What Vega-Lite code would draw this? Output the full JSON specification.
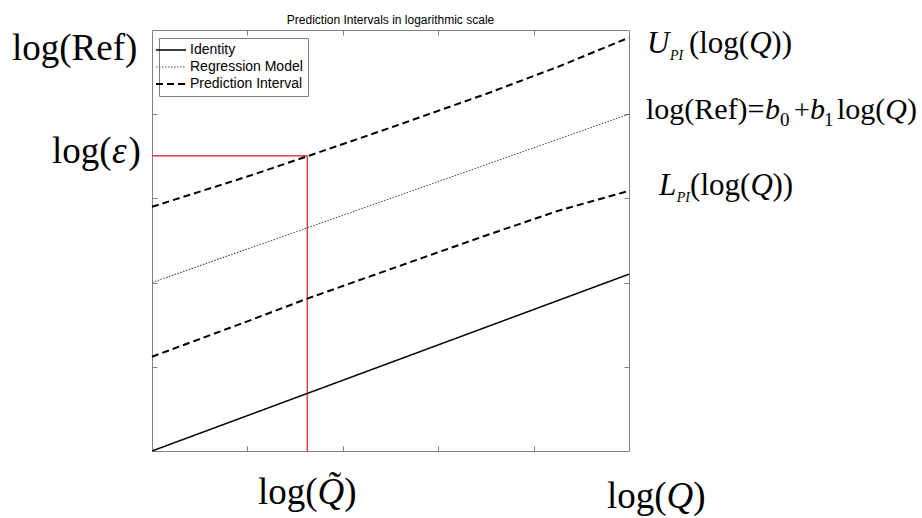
{
  "$schema": "https://vega.github.io/schema/vega-lite/v6.json",
  "width": 477,
  "height": 421,
  "autosize": {"type": "none"},
  "padding": {"left": 152, "top": 30, "right": 293, "bottom": 67},
  "background": "white",
  "title": {"text": "Prediction Intervals in logarithmic scale", "font": "Liberation Sans", "fontSize": 12, "fontWeight": "normal", "color": "#000000", "anchor": "middle", "baseline": "alphabetic", "offset": -8},
  "config": {
    "view": {"stroke": "#808080", "strokeWidth": 1},
    "axis": {"labels": false, "domain": false, "grid": false, "ticks": true, "tickSize": -5, "tickColor": "#808080", "tickWidth": 1, "title": null},
    "legend": {"orient": "none", "legendX": 7, "legendY": 8, "strokeColor": "#808080", "fillColor": "white", "padding": 5, "title": null, "labelFont": "Liberation Sans", "labelFontSize": 14, "labelColor": "#000000", "symbolType": "M-2.5,0H2.5", "symbolSize": 144, "labelOffset": 12, "rowPadding": 3}
  },
  "datasets": {
    "lines": [
      {"s": "Identity", "id": "identity", "x": 0, "y": 0},
      {"s": "Identity", "id": "identity", "x": 5, "y": 2.10},
      {"s": "Regression Model", "id": "reg", "x": 0, "y": 2.0},
      {"s": "Regression Model", "id": "reg", "x": 5, "y": 4.0},
      {"s": "Prediction Interval", "id": "upper", "x": 0, "y": 2.90},
      {"s": "Prediction Interval", "id": "upper", "x": 1, "y": 3.26},
      {"s": "Prediction Interval", "id": "upper", "x": 1.628, "y": 3.50},
      {"s": "Prediction Interval", "id": "upper", "x": 2.5, "y": 3.84},
      {"s": "Prediction Interval", "id": "upper", "x": 3.5, "y": 4.24},
      {"s": "Prediction Interval", "id": "upper", "x": 4.25, "y": 4.56},
      {"s": "Prediction Interval", "id": "upper", "x": 5, "y": 4.91},
      {"s": "Prediction Interval", "id": "lower", "x": 0, "y": 1.12},
      {"s": "Prediction Interval", "id": "lower", "x": 1, "y": 1.54},
      {"s": "Prediction Interval", "id": "lower", "x": 1.628, "y": 1.81},
      {"s": "Prediction Interval", "id": "lower", "x": 2.5, "y": 2.16},
      {"s": "Prediction Interval", "id": "lower", "x": 3.5, "y": 2.56},
      {"s": "Prediction Interval", "id": "lower", "x": 4.25, "y": 2.85},
      {"s": "Prediction Interval", "id": "lower", "x": 5, "y": 3.09}
    ],
    "red": [
      {"x": 0, "x2": 1.628, "y": 3.507, "y2": 3.507},
      {"x": 1.628, "x2": 1.628, "y": 0, "y2": 3.507}
    ],
    "roman": [
      {"t": "log(Ref)", "x": -1.468, "y": 4.644, "fs": 37},
      {"t": "log(", "x": -1.048, "y": 3.420, "fs": 37},
      {"t": ")", "x": -0.246, "y": 3.420, "fs": 37},
      {"t": "log(", "x": 1.111, "y": -0.629, "fs": 37},
      {"t": ")", "x": 2.016, "y": -0.629, "fs": 37},
      {"t": "log(", "x": 4.769, "y": -0.677, "fs": 37},
      {"t": ")", "x": 5.674, "y": -0.677, "fs": 37},
      {"t": "(log(", "x": 5.628, "y": 4.727, "fs": 31},
      {"t": "))", "x": 6.492, "y": 4.727, "fs": 31},
      {"t": "log(Ref)=", "x": 5.178, "y": 3.943, "fs": 30},
      {"t": "0", "x": 6.583, "y": 3.860, "fs": 19},
      {"t": "+", "x": 6.730, "y": 3.943, "fs": 28},
      {"t": "1", "x": 7.045, "y": 3.860, "fs": 19},
      {"t": "log(", "x": 7.180, "y": 3.943, "fs": 30},
      {"t": ")", "x": 7.914, "y": 3.943, "fs": 30},
      {"t": "(log(", "x": 5.640, "y": 3.040, "fs": 31},
      {"t": "))", "x": 6.504, "y": 3.040, "fs": 31}
    ],
    "italic": [
      {"t": "ε", "x": -0.419, "y": 3.420, "fs": 37},
      {"t": "Q̃", "x": 1.736, "y": -0.629, "fs": 37},
      {"t": "Q", "x": 5.394, "y": -0.677, "fs": 37},
      {"t": "U", "x": 5.189, "y": 4.727, "fs": 31},
      {"t": "PI", "x": 5.430, "y": 4.644, "fs": 14},
      {"t": "Q", "x": 6.261, "y": 4.727, "fs": 31},
      {"t": "b", "x": 6.426, "y": 3.943, "fs": 30},
      {"t": "b", "x": 6.897, "y": 3.943, "fs": 30},
      {"t": "Q", "x": 7.686, "y": 3.943, "fs": 30},
      {"t": "L", "x": 5.314, "y": 3.040, "fs": 31},
      {"t": "PI", "x": 5.500, "y": 2.957, "fs": 14},
      {"t": "Q", "x": 6.273, "y": 3.040, "fs": 31}
    ]
  },
  "layer": [
    {
      "data": {"name": "red"},
      "mark": {"type": "rule", "color": "#d24646", "strokeWidth": 1.5},
      "encoding": {
        "x": {"field": "x", "type": "quantitative", "scale": {"domain": [0, 5], "nice": false, "zero": false}, "axis": {"orient": "bottom", "values": [1, 2, 3, 4]}},
        "x2": {"field": "x2"},
        "y": {"field": "y", "type": "quantitative", "scale": {"domain": [0, 5], "nice": false, "zero": false}, "axis": {"orient": "left", "values": [1, 2, 3, 4]}},
        "y2": {"field": "y2"}
      }
    },
    {
      "data": {"name": "lines"},
      "mark": {"type": "line"},
      "encoding": {
        "x": {"field": "x", "type": "quantitative", "axis": null},
        "y": {"field": "y", "type": "quantitative", "axis": null},
        "detail": {"field": "id"},
        "color": {"field": "s", "type": "nominal", "scale": {"domain": ["Identity", "Regression Model", "Prediction Interval"], "range": ["#000000", "#505050", "#000000"]}, "legend": {}},
        "strokeDash": {"field": "s", "type": "nominal", "scale": {"domain": ["Identity", "Regression Model", "Prediction Interval"], "range": [[1, 0], [1.5, 1.5], [7, 4]]}},
        "strokeWidth": {"field": "s", "type": "nominal", "scale": {"type": "ordinal", "domain": ["Identity", "Regression Model", "Prediction Interval"], "range": [1.5, 1.1, 2]}}
      }
    },
    {
      "data": {"name": "roman"},
      "mark": {"type": "text", "font": "Liberation Serif", "align": "left", "baseline": "alphabetic", "color": "#000000"},
      "encoding": {
        "x": {"field": "x", "type": "quantitative", "axis": {"orient": "top", "values": [1, 2, 3, 4]}},
        "y": {"field": "y", "type": "quantitative", "axis": {"orient": "right", "values": [1, 2, 3, 4]}},
        "text": {"field": "t"},
        "size": {"field": "fs", "type": "quantitative", "scale": null}
      }
    },
    {
      "data": {"name": "italic"},
      "mark": {"type": "text", "font": "Liberation Serif", "fontStyle": "italic", "align": "left", "baseline": "alphabetic", "color": "#000000"},
      "encoding": {
        "x": {"field": "x", "type": "quantitative", "axis": null},
        "y": {"field": "y", "type": "quantitative", "axis": null},
        "text": {"field": "t"},
        "size": {"field": "fs", "type": "quantitative", "scale": null}
      }
    }
  ],
  "resolve": {"axis": {"x": "independent", "y": "independent"}}
}
